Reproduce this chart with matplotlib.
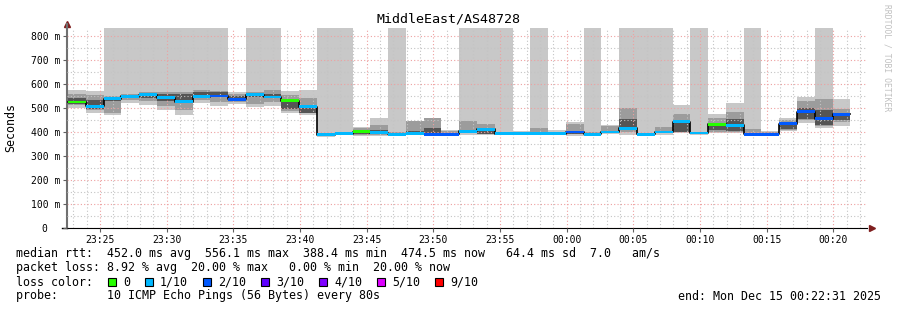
import numpy as np
import pandas as pd
import matplotlib
matplotlib.use('Agg')
import matplotlib.pyplot as plt
import matplotlib.dates as mdates
from matplotlib.patches import Rectangle

# smokeping steps of 80s, values in ms (1000 = off the top of the graph)
median = [525, 508, 538, 548, 555, 543, 527, 547, 550, 536, 555, 546, 531, 505, 388.4,
          392, 401, 397, 391, 392, 391, 391, 403, 411, 392, 392, 392, 393, 400, 391,
          400, 415, 391, 400, 443, 396, 432, 428, 391, 391, 435, 484, 455, 474.5]
loss = [0, 1, 1, 1, 1, 1, 1, 1, 2, 2, 1, 1, 0, 1, 1,
        1, 0, 1, 1, 1, 2, 2, 1, 1, 1, 1, 1, 1, 2, 1,
        1, 1, 1, 1, 1, 1, 0, 1, 2, 2, 2, 2, 2, 2]
ping_min = [500, 478, 472, 522, 512, 492, 471, 520, 508, 517, 505, 508, 481, 471, 380,
            387, 385, 384, 386, 386, 386, 386, 388, 386, 388, 387, 387, 387, 385, 386,
            392, 387, 386, 388, 395, 388, 394, 395, 387, 387, 405, 439, 415, 426]
ping_q1 = [512, 490, 480, 535, 530, 508, 492, 533, 527, 523, 518, 525, 487, 478, 383,
           389, 388, 389, 388, 389, 388, 388, 398, 392, 390, 389, 390, 390, 390, 389,
           397, 400, 388, 395, 398, 392, 402, 400, 389, 389, 410, 452, 425, 440]
ping_q3 = [560, 555, 548, 558, 565, 565, 568, 575, 572, 560, 565, 573, 553, 540, 392,
           396, 415, 430, 400, 447, 460, 405, 447, 432, 396, 396, 418, 398, 432, 398,
           425, 499, 395, 422, 475, 400, 460, 482, 412, 398, 450, 530, 538, 497]
ping_max = [575, 571, 1000, 1000, 1000, 1000, 1000, 1000, 1000, 568, 1000, 1000, 572, 576, 1000,
            1000, 421, 460, 1000, 447, 460, 410, 1000, 1000, 1000, 404, 1000, 408, 440, 1000,
            430, 1000, 1000, 1000, 512, 1000, 474, 522, 1000, 403, 460, 547, 1000, 537]
core_lo = [515, 495, 530, 548, 540, 530, 535, 550, 552, 538, 545, 540, 495, 478, 388,
           392, 390, 400, 391, 395, 395, 391, 398, 392, 392, 392, 392, 393, 390, 391,
           397, 417, 391, 400, 400, 396, 410, 405, 391, 391, 412, 455, 430, 448]
core_hi = [540, 535, 545, 548, 560, 560, 560, 568, 565, 550, 560, 560, 528, 500, 388,
           392, 398, 408, 391, 403, 418, 391, 403, 408, 392, 392, 392, 393, 398, 391,
           405, 453, 391, 400, 440, 396, 425, 455, 391, 391, 430, 500, 490, 478]

loss_labels = ['0', '1/10', '2/10', '3/10', '4/10', '5/10', '9/10']
loss_colors = ['#26ff00', '#00b8ff', '#0059ff', '#5e00ff', '#7e00ff', '#dd00ff', '#ff0000']

t_start = pd.Timestamp('2025-12-14 23:22:31')
t_end = pd.Timestamp('2025-12-15 00:22:31')
first_step = pd.Timestamp('2025-12-14 23:22:36')

mono = 'DejaVu Sans Mono'
W, H = 897, 310

n = len(median)
x = mdates.date2num(pd.date_range(first_step, periods=n, freq='80s').to_pydatetime())
w = 80 / 86400.0
median = np.array(median, float)
ping_min = np.array(ping_min, float)
ping_max = np.array(ping_max, float)
ping_q1 = np.array(ping_q1, float)
ping_q3 = np.array(ping_q3, float)
core_lo = np.array(core_lo, float)
core_hi = np.array(core_hi, float)

fig = plt.figure(figsize=(W / 100, H / 100), dpi=100)
ax = fig.add_axes([67 / W, 82 / H, 800 / W, 200 / H])

# smoke
ax.bar(x, ping_max - ping_min, bottom=ping_min, width=w, align='edge', color='#c8c8c8', lw=0)
ax.bar(x, ping_q3 - ping_q1, bottom=ping_q1, width=w, align='edge', color='#9c9c9c', lw=0)
ax.bar(x, core_hi - core_lo, bottom=core_lo, width=w, align='edge', color='#555555', lw=0)

# median line + loss colored band
ax.step(np.append(x, x[-1] + w), np.append(median, median[-1]), where='post', color='black', lw=1.2, zorder=3)
band = 6.0
ax.bar(x, 2 * band, bottom=median - band, width=w, align='edge',
       color=[loss_colors[l] for l in loss], lw=0, zorder=4)

ax.set_xlim(mdates.date2num(t_start.to_pydatetime()), mdates.date2num(t_end.to_pydatetime()))
ax.set_ylim(0, 833.3)

ax.xaxis.set_major_locator(mdates.MinuteLocator(byminute=range(0, 60, 5)))
ax.xaxis.set_minor_locator(mdates.MinuteLocator())
ax.xaxis.set_major_formatter(mdates.DateFormatter('%H:%M'))
ax.set_yticks(np.arange(0, 801, 100))
ax.set_yticks(np.arange(50, 833, 50), minor=True)
ax.set_yticklabels(['0  '] + ['%d m' % v for v in range(100, 801, 100)])

ax.set_axisbelow(False)
ax.grid(which='minor', color='#c4c4c4', lw=0.8, ls=(0, (1, 2)))
ax.grid(which='major', color='#eea0a0', lw=0.8, ls=(0, (1, 2)))

for s in ['top', 'right']:
    ax.spines[s].set_visible(False)
ax.spines['bottom'].set_color('black')
ax.spines['left'].set_color('#707070')
ax.spines['left'].set_linewidth(1.5)
ax.tick_params(which='major', length=3, width=0.8, color='#606060', labelsize=7, pad=2)
ax.tick_params(which='minor', length=0)
for lab in ax.get_xticklabels() + ax.get_yticklabels():
    lab.set_family(mono)

# axis arrows
ax.plot([0], [1.02], marker='^', ms=5, color='#7f1f1f', transform=ax.transAxes, clip_on=False)
ax.plot([1.006], [0], marker='>', ms=5, color='#7f1f1f', transform=ax.transAxes, clip_on=False)
ax.plot([0, 0], [1.0, 1.02], color='#707070', lw=1.5, transform=ax.transAxes, clip_on=False)
ax.plot([-0.006, 0], [0, 0], color='black', lw=1, transform=ax.transAxes, clip_on=False)

fig.text(448.5 / W, 1 - 19 / H, 'MiddleEast/AS48728', ha='center', va='center', family=mono, size=9.6)
fig.text(11 / W, 1 - 128 / H, 'Seconds', rotation=90, ha='center', va='center', family=mono, size=8.4)
fig.text(887 / W, 1 - 4 / H, 'RRDTOOL / TOBI OETIKER', rotation=270, ha='center', va='top',
         family=mono, size=5.8, color='#c0c0c0')

fs = 8.4
fig.text(16 / W, 1 - 254 / H,
         'median rtt:  452.0 ms avg  556.1 ms max  388.4 ms min  474.5 ms now   64.4 ms sd  7.0   am/s',
         va='center', family=mono, size=fs)
fig.text(16 / W, 1 - 268 / H, 'packet loss: 8.92 % avg  20.00 % max   0.00 % min  20.00 % now',
         va='center', family=mono, size=fs)
fig.text(16 / W, 1 - 282 / H, 'loss color:', va='center', family=mono, size=fs)
bx = 108
for lab, col in zip(loss_labels, loss_colors):
    fig.add_artist(Rectangle((bx / W, 1 - 286 / H), 8 / W, 8 / H, transform=fig.transFigure,
                             facecolor=col, edgecolor='black', lw=0.8))
    fig.text((bx + 15) / W, 1 - 282 / H, lab, va='center', family=mono, size=fs)
    bx += 15 + 7 * len(lab) + 15
fig.text(16 / W, 1 - 296 / H, 'probe:       10 ICMP Echo Pings (56 Bytes) every 80s',
         va='center', family=mono, size=fs)
fig.text(881 / W, 1 - 296 / H, 'end: Mon Dec 15 00:22:31 2025', ha='right', va='center',
         family=mono, size=fs)

fig.savefig('out.png', dpi=100)
